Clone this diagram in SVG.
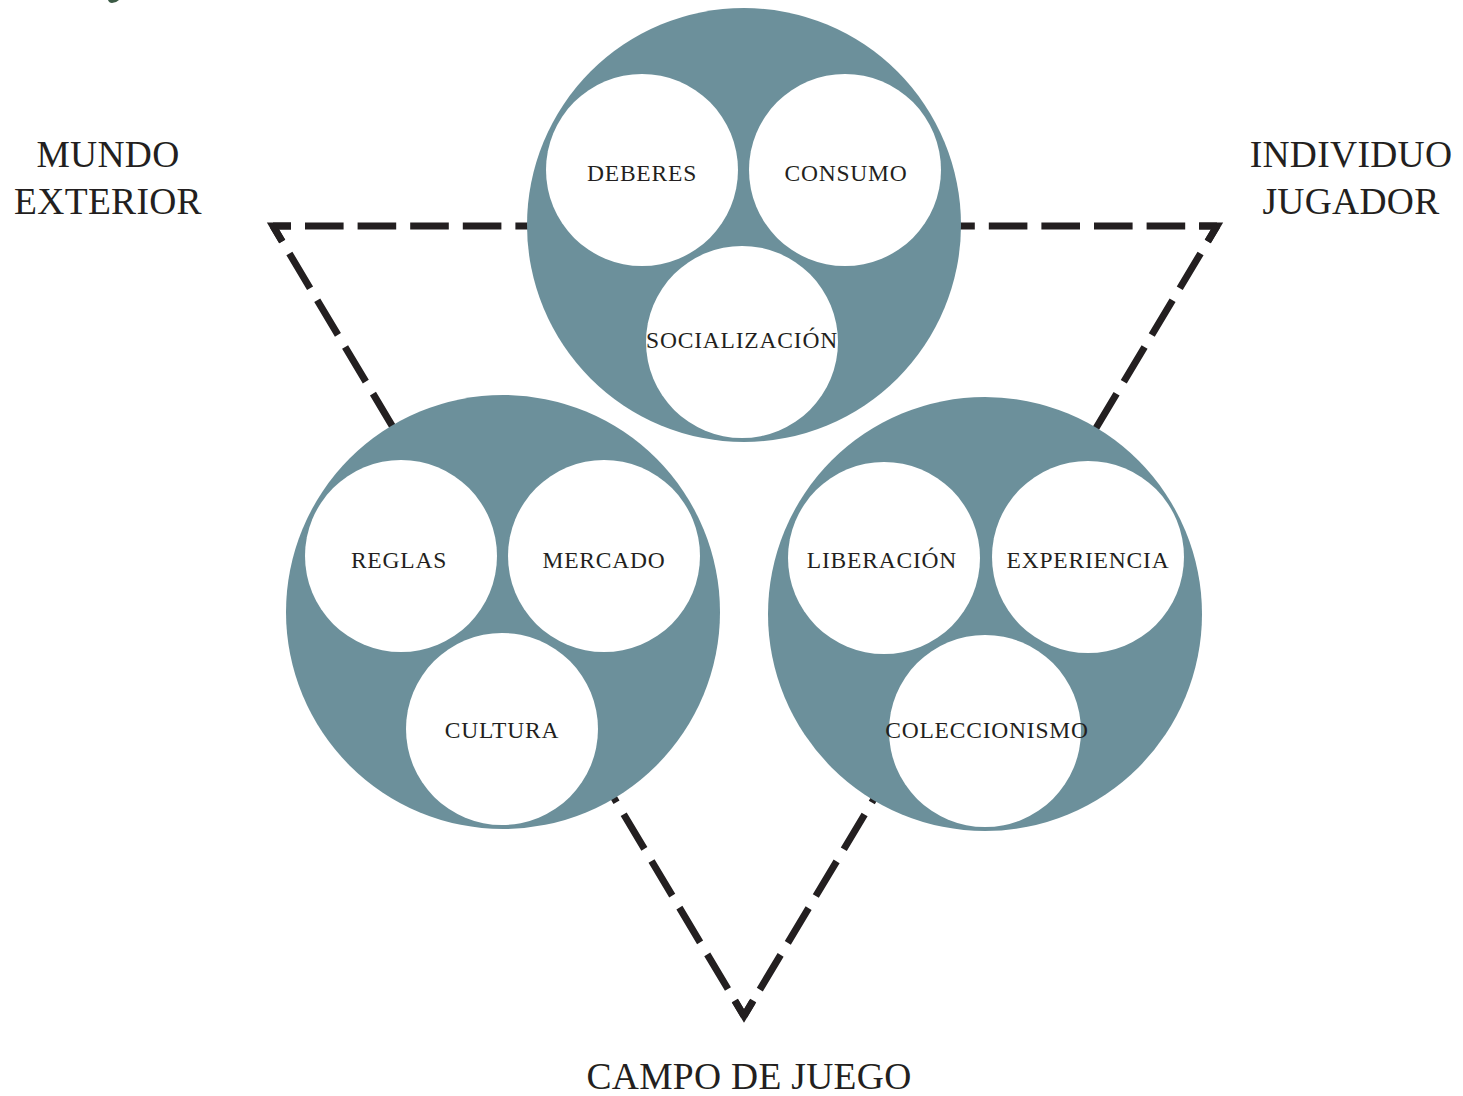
<svg xmlns="http://www.w3.org/2000/svg" width="1463" height="1096" viewBox="0 0 1463 1096">
<style>
.big{fill:#6c909b}
.in{fill:#ffffff}
.lbl{font-family:"Liberation Serif","DejaVu Serif",serif;font-size:23.5px;fill:#231f20;text-anchor:middle;letter-spacing:0.8px}
.title{font-family:"Liberation Serif","DejaVu Serif",serif;font-size:37.5px;fill:#231f20;text-anchor:middle;letter-spacing:0.3px}
.dash{stroke:#231f20;stroke-width:7;fill:none;stroke-linecap:butt}
.corner{stroke:#231f20;stroke-width:7;fill:none;stroke-linejoin:miter;stroke-miterlimit:10}
</style>
<rect width="1463" height="1096" fill="#ffffff"/>
<path d="M108 0 H119 Q116 3 112 3 Q109 3 108 0 Z" fill="#3b5a45"/>
<g id="connectors">
<line class="dash" x1="273" y1="226" x2="1217" y2="226" stroke-dasharray="38.6 14" stroke-dashoffset="20.6"/>
<line class="dash" x1="273" y1="226" x2="744" y2="1016" stroke-dasharray="40.4 14" stroke-dashoffset="22.4"/>
<line class="dash" x1="1217" y1="226" x2="744" y2="1016" stroke-dasharray="40.5 14" stroke-dashoffset="22.5"/>
<polyline class="corner" points="291,226 273,226 282.2,241.5"/>
<polyline class="corner" points="1199,226 1217,226 1207.8,241.4"/>
<polyline class="corner" points="734.8,1000.5 744,1016 753.2,1000.5"/>
</g>
<g id="title-mundo">
<text class="title" x="108" y="167">MUNDO</text>
<text class="title" x="108" y="214">EXTERIOR</text>
</g>
<g id="title-individuo">
<text class="title" x="1351" y="167">INDIVIDUO</text>
<text class="title" x="1351" y="214">JUGADOR</text>
</g>
<g id="title-campo">
<text class="title" x="749" y="1089">CAMPO DE JUEGO</text>
</g>
<g id="group-top">
<circle class="big" cx="744" cy="225" r="217"/>
<g id="node-deberes"><circle class="in" cx="642" cy="170" r="96"/><text class="lbl" x="642" y="181">DEBERES</text></g>
<g id="node-consumo"><circle class="in" cx="845" cy="170" r="96"/><text class="lbl" x="846" y="181">CONSUMO</text></g>
<g id="node-socializacion"><circle class="in" cx="742" cy="342" r="96"/><text class="lbl" x="742" y="348">SOCIALIZACIÓN</text></g>
</g>
<g id="group-left">
<circle class="big" cx="503" cy="612" r="217"/>
<g id="node-reglas"><circle class="in" cx="401" cy="556" r="96"/><text class="lbl" x="399" y="568">REGLAS</text></g>
<g id="node-mercado"><circle class="in" cx="604" cy="556" r="96"/><text class="lbl" x="604" y="568">MERCADO</text></g>
<g id="node-cultura"><circle class="in" cx="502" cy="729" r="96"/><text class="lbl" x="502" y="738">CULTURA</text></g>
</g>
<g id="group-right">
<circle class="big" cx="985" cy="614" r="217"/>
<g id="node-liberacion"><circle class="in" cx="884" cy="558" r="96"/><text class="lbl" x="882" y="568">LIBERACIÓN</text></g>
<g id="node-experiencia"><circle class="in" cx="1088" cy="557" r="96"/><text class="lbl" x="1088" y="568">EXPERIENCIA</text></g>
<g id="node-coleccionismo"><circle class="in" cx="985" cy="731" r="96"/><text class="lbl" x="987" y="738">COLECCIONISMO</text></g>
</g>
</svg>
